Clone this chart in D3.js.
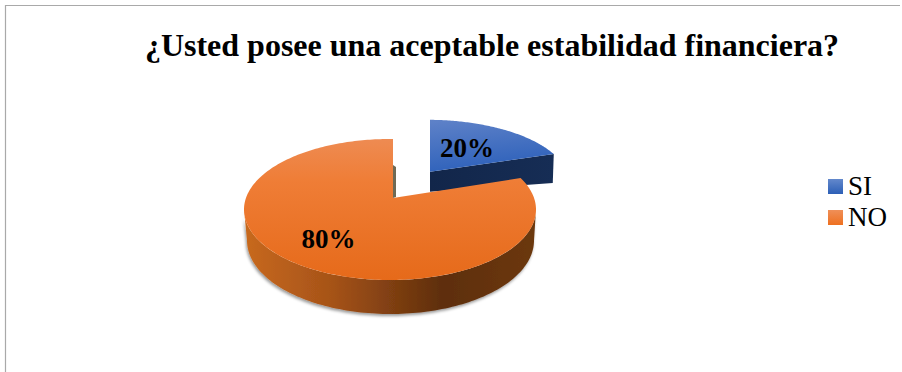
<!DOCTYPE html>
<html>
<head>
<meta charset="utf-8">
<script src="https://cdn.jsdelivr.net/npm/d3@7"></script>
<style>
  html, body { margin: 0; padding: 0; background: #fff; }
  svg { display: block; }
  text { font-family: "Liberation Serif", serif; fill: #000; }
</style>
</head>
<body>
<script>
// Pie values and labels
const categories = ["SI", "NO"];
const shares = [20, 80];
const titleText = "¿Usted posee una aceptable estabilidad financiera?";

const width = 902, height = 372;
const svg = d3.select("body").append("svg").attr("width", width).attr("height", height);
const defs = svg.append("defs");

function gradient(id, stops, x2, y2) {
  const g = defs.append("linearGradient").attr("id", id)
    .attr("x1", 0).attr("y1", 0).attr("x2", x2).attr("y2", y2);
  stops.forEach(([o, c]) => g.append("stop").attr("offset", o).attr("stop-color", c));
}
gradient("orangeTop", [[0, "#ee8b52"], [0.3, "#ef7d36"], [1, "#e66a1a"]], 0, 1);
gradient("orangeSide", [[0, "#c8691f"], [0.3, "#a65318"], [0.68, "#5e2e0c"], [1, "#6c3810"]], 1, 0);
gradient("blueTop", [[0, "#5f82c8"], [1, "#2f62bb"]], 0.25, 1);
gradient("blueWall", [[0, "#12264a"], [1, "#162d55"]], 1, 0);
gradient("legendBlue", [[0, "#6388cc"], [1, "#2c5fb6"]], 0, 1);
gradient("legendOrange", [[0, "#ef8f58"], [1, "#ee7020"]], 0, 1);

const soft = defs.append("filter").attr("id", "pieShadow")
  .attr("x", "-5%").attr("y", "-5%").attr("width", "110%").attr("height", "115%");
soft.append("feDropShadow").attr("dx", -1).attr("dy", 2)
  .attr("stdDeviation", 1.8).attr("flood-color", "#000").attr("flood-opacity", 0.4);

// Chart frame, open on the right and at the bottom
svg.append("path")
  .attr("d", d3.line()([[5.5, height], [5.5, 5.5], [width - 2, 5.5]]))
  .attr("fill", "none").attr("stroke", "#a9a9a9").attr("stroke-width", 1.2);

// Scales from the unit disc to the tilted top and bottom faces of the pie
const xTop = d3.scaleLinear().domain([-1, 1]).range([244, 536]);
const yTop = d3.scaleLinear().domain([-1, 1]).range([139, 280]);
const xBase = d3.scaleLinear().domain([-1, 1]).range([247, 534]);
const yBase = d3.scaleLinear().domain([-1, 1]).range([167, 314]);

// The vanishing centre of the tilted disc sits slightly behind its geometric centre
const hub = { x: xTop.invert(393), y: yTop.invert(198) };

// Point along the ray from the hub at a pie angle; f = 1 lands on the rim
function onDisc(angle, f = 1) {
  const dx = Math.sin(angle), dy = -Math.cos(angle);
  const b = hub.x * dx + hub.y * dy;
  const c = hub.x * hub.x + hub.y * hub.y - 1;
  const t = -b + Math.sqrt(b * b - c);
  return [hub.x + f * t * dx, hub.y + f * t * dy];
}

const arcs = d3.pie().sort(null).value(d => d)(shares);
const [siArc, noArc] = arcs;
const line = d3.line();
const samples = (a0, a1, n = 90) => d3.range(n + 1).map(i => a0 + (a1 - a0) * i / n);

// The exploded slice is pulled away from the hub and reads a little smaller
const blueHub = [430, 171.7];
const toBlue = ([u, v]) => [
  blueHub[0] + (xTop(u) - xTop(hub.x)) * 0.97,
  blueHub[1] + (yTop(v) - yTop(hub.y)) * 0.88
];
const wallDepth = d3.scaleLinear().domain([siArc.startAngle, siArc.endAngle]).range([20, 29]);

const pie = svg.append("g");

// Blue slice: cut wall first, then the top face
const blueEnd = toBlue(onDisc(siArc.endAngle));
pie.append("path")
  .attr("d", line([
    blueHub, blueEnd,
    [blueEnd[0] - 1, blueEnd[1] + wallDepth(siArc.endAngle)],
    [blueHub[0], blueHub[1] + wallDepth(siArc.startAngle)]
  ]) + "Z")
  .attr("fill", "url(#blueWall)");
pie.append("path")
  .attr("d", line([blueHub, ...samples(siArc.startAngle, siArc.endAngle).map(a => toBlue(onDisc(a)))]) + "Z")
  .attr("fill", "url(#blueTop)");

// Orange rim wall around the front half of the disc
const front = samples(0, Math.PI, 120);
const rimTop = front.map(t => [xTop(Math.cos(t)), yTop(Math.sin(t))]);
const rimBase = front.map(t => [xBase(Math.cos(t)), yBase(Math.sin(t))]).reverse();
pie.append("path")
  .attr("d", line([...rimTop, ...rimBase]) + "Z")
  .attr("fill", "url(#orangeSide)")
  .attr("filter", "url(#pieShadow)");

// Sliver of the inner cut wall visible beside the notch
const hubPx = [xTop(hub.x), yTop(hub.y)];
pie.append("path")
  .attr("d", line([
    [hubPx[0], hubPx[1] - 33], [hubPx[0] + 3, hubPx[1] - 31],
    [hubPx[0] + 3, hubPx[1] - 1], hubPx
  ]) + "Z")
  .attr("fill", "#6f6a55");

// Orange top face
pie.append("path")
  .attr("d", line([hubPx, ...samples(noArc.startAngle, noArc.endAngle, 240)
    .map(a => { const [u, v] = onDisc(a); return [xTop(u), yTop(v)]; })]) + "Z")
  .attr("fill", "url(#orangeTop)");

// Percentage labels
const midAngle = d => (d.startAngle + d.endAngle) / 2;
const siLabel = toBlue(onDisc(midAngle(siArc), 0.52));
const [nu, nv] = onDisc(midAngle(noArc), 0.66);
const labelPos = [siLabel, [xTop(nu), yTop(nv)]];
svg.selectAll("text.pct").data(shares).join("text")
  .attr("class", "pct")
  .attr("x", (d, i) => labelPos[i][0])
  .attr("y", (d, i) => labelPos[i][1] + 7.5)
  .attr("text-anchor", "middle")
  .attr("font-size", 27)
  .attr("font-weight", "bold")
  .text(d => d + "%");

// Title
svg.append("text")
  .attr("x", 492).attr("y", 56)
  .attr("text-anchor", "middle")
  .attr("font-size", 32)
  .attr("font-weight", "bold")
  .text(titleText);

// Legend
const legendY = d3.scalePoint().domain(categories).range([179, 210]);
const legendFill = { SI: "url(#legendBlue)", NO: "url(#legendOrange)" };
const legend = svg.selectAll("g.key").data(categories).join("g")
  .attr("class", "key")
  .attr("transform", d => `translate(828,${legendY(d)})`);
legend.append("rect").attr("width", 15).attr("height", 15).attr("fill", d => legendFill[d]);
legend.append("text").attr("x", 20).attr("y", 16).attr("font-size", 27).text(d => d);
</script>
</body>
</html>
